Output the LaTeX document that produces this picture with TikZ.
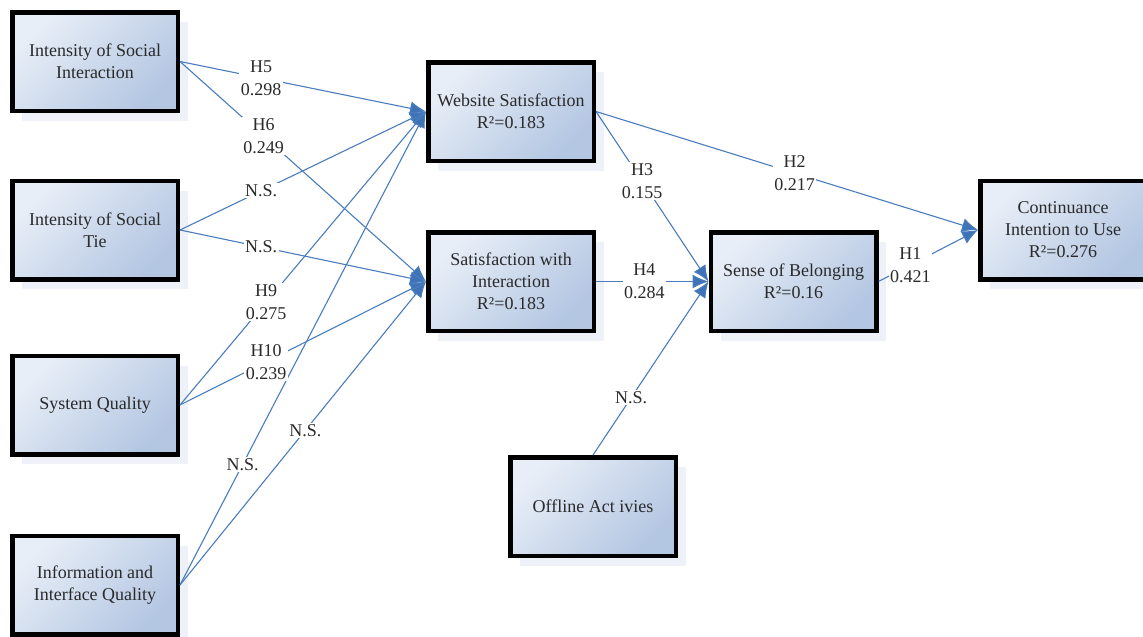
\documentclass[tikz,border=0pt]{standalone}
\usepackage{fontspec}
\setmainfont{Liberation Serif}
\usetikzlibrary{arrows.meta,shadows}
\definecolor{boxlight}{HTML}{E8EEF7}
\definecolor{boxdark}{HTML}{B3C6E2}
\definecolor{shadowc}{HTML}{DFE7F2}
\definecolor{linec}{HTML}{4A7DBD}
\definecolor{tipc}{HTML}{3F73B8}
\definecolor{txt}{HTML}{2A2A2A}
\tikzset{
  box/.style={draw=black, line width=4.5pt, minimum width=165.5pt, minimum height=98.5pt,
    top color=boxlight, bottom color=boxdark, shading angle=45,
    align=center, text=txt, font=\fontsize{18}{22}\selectfont,
    drop shadow={shadow xshift=10pt, shadow yshift=-10pt, fill=shadowc}},
  conn/.style={draw=linec, line width=1.1pt, -{Latex[length=16pt,width=14pt,fill=tipc]}},
  lbl/.style={fill=white, inner sep=1.5pt, align=center, text=txt,
    font=\fontsize{18}{23}\selectfont}
}
\begin{document}
\begin{tikzpicture}[x=1pt,y=-1pt]
\useasboundingbox (0,0) rectangle (1143,637);
\clip (0,0) rectangle (1143,637);
\fill[white] (0,0) rectangle (1143,637);
% boxes
\node[box] (isi) at (95,61.5) {Intensity of Social\\Interaction};
\node[box] (ist) at (95,230) {Intensity of Social\\Tie};
\node[box] (sq) at (95,405) {System Quality};
\node[box, overlay] (iiq) at (95,585) {Information and\\Interface Quality};
\node[box] (ws) at (511,111.5) {Website Satisfaction\\R²=0.183};
\node[box] (swi) at (511,281.5) {Satisfaction with\\Interaction\\R²=0.183};
\node[box] (sob) at (793.5,281.5) {Sense of Belonging\\R²=0.16};
\node[box, overlay] (ciu) at (1063,230) {Continuance\\Intention to Use\\R²=0.276};
\node[box] (oa) at (593,506.5) {Offline Act ivies};
% connectors
\draw[conn] (isi.east) -- (ws.west);
\draw[conn] (isi.east) -- (swi.west);
\draw[conn] (ist.east) -- (ws.west);
\draw[conn] (ist.east) -- (swi.west);
\draw[conn] (sq.east) -- (ws.west);
\draw[conn] (sq.east) -- (swi.west);
\draw[conn] (iiq.east) -- (ws.west);
\draw[conn] (iiq.east) -- (swi.west);
\draw[conn] (ws.east) -- (sob.west);
\draw[conn] (swi.east) -- (sob.west);
\draw[conn] (oa.north) -- (sob.west);
\draw[conn] (ws.east) -- (ciu.west);
\draw[conn] (sob.east) -- (ciu.west);
% labels
\path (isi.east) -- (ws.west) node[lbl, pos=0.33] (l5) {H5\\0.298};
\path (isi.east) -- (swi.west) node[lbl, pos=0.34] (l6) {H6\\0.249};
\path (ist.east) -- (ws.west) node[lbl, pos=0.33] (lns1) {N.S.};
\path (ist.east) -- (swi.west) node[lbl, pos=0.33] (lns2) {N.S.};
\path (sq.east) -- (ws.west) node[lbl, pos=0.35] (l9) {H9\\0.275};
\path (sq.east) -- (swi.west) node[lbl, pos=0.35] (l10) {H10\\0.239};
\path (iiq.east) -- (ws.west) node[lbl, pos=0.255] (lns3) {N.S.};
\path (iiq.east) -- (swi.west) node[lbl, pos=0.51] (lns4) {N.S.};
\path (ws.east) -- (sob.west) node[lbl, pos=0.41] (l3) {H3\\0.155};
\path (swi.east) -- (sob.west) node[lbl, pos=0.43] (l4) {H4\\0.284};
\path (oa.north) -- (sob.west) node[lbl, pos=0.33] (lns5) {N.S.};
\path (ws.east) -- (ciu.west) node[lbl, pos=0.52] (l2) {H2\\0.217};
\path (sob.east) -- (ciu.west) node[lbl, pos=0.32] (l1) {H1\\0.421};
\end{tikzpicture}
\end{document}
